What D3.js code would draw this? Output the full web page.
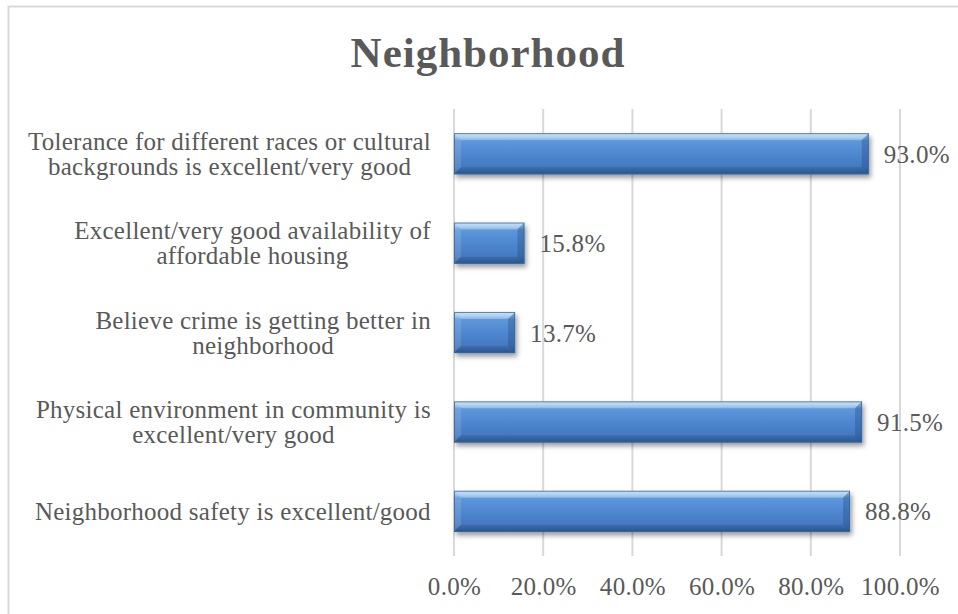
<!DOCTYPE html>
<html>
<head>
<meta charset="utf-8">
<script src="https://cdn.jsdelivr.net/npm/d3@7"></script>
<style>
  html, body { margin: 0; padding: 0; background: #fff; }
  svg { display: block; }
  text { font-family: "Liberation Serif", "Times New Roman", serif; fill: #595959; }
</style>
</head>
<body>
<svg id="chart" width="958" height="614"></svg>
<script>
// ---- data ----
const title = "Neighborhood";
const categories = [
  "Tolerance for different races or cultural\nbackgrounds is excellent/very good",
  "Excellent/very good availability of\naffordable housing",
  "Believe crime is getting better in\nneighborhood",
  "Physical environment in community is\nexcellent/very good",
  "Neighborhood safety is excellent/good"
];
const values = [93.0, 15.8, 13.7, 91.5, 88.8];
const xTicks = [0, 20, 40, 60, 80, 100];

// ---- layout ----
const svg = d3.select("#chart");
const W = 958, H = 614;
const plot = { left: 454, right: 900, top: 109, bottom: 556 };

const x = d3.scaleLinear().domain([0, 100]).range([plot.left, plot.right]);
const y = d3.scaleBand().domain(categories).range([plot.top, plot.bottom]).paddingInner(0.54).paddingOuter(0.27);

// defs
const defs = svg.append("defs");
const g1 = defs.append("linearGradient").attr("id", "barGrad").attr("x1", 0).attr("y1", 0).attr("x2", 0).attr("y2", 1);
[["0%", "#b5dcfb"], ["10%", "#8fc1ef"], ["18%", "#5d97dc"], ["50%", "#4f88d0"], ["82%", "#4479c0"], ["92%", "#3a6aa8"], ["100%", "#2d5588"]]
  .forEach(([o, c]) => g1.append("stop").attr("offset", o).attr("stop-color", c));
const f = defs.append("filter").attr("id", "shadow").attr("x", "-10%").attr("y", "-30%").attr("width", "130%").attr("height", "180%");
f.append("feDropShadow").attr("dx", 2).attr("dy", 3.5).attr("stdDeviation", 2.5).attr("flood-color", "#000").attr("flood-opacity", 0.4);

// chart border
svg.append("rect").attr("x", 8.5).attr("y", 6.5).attr("width", W + 20).attr("height", H + 20)
  .attr("fill", "none").attr("stroke", "#d9d9d9").attr("stroke-width", 2);

// title
svg.append("text").attr("x", 488).attr("y", 67).attr("text-anchor", "middle")
  .style("font-size", "43px").style("font-weight", "bold").style("letter-spacing", "1px").text(title);

// gridlines
svg.append("g").selectAll("line").data(xTicks).join("line")
  .attr("x1", d => x(d)).attr("x2", d => x(d))
  .attr("y1", plot.top).attr("y2", plot.bottom)
  .attr("stroke", "#d9d9d9").attr("stroke-width", 2);

// x axis tick labels
const xAxis = d3.axisBottom(x).tickValues(xTicks).tickSize(0).tickPadding(0).tickFormat(d => d.toFixed(1) + "%");
const gx = svg.append("g").attr("transform", `translate(0,${plot.bottom})`).call(xAxis);
gx.select(".domain").remove();
gx.selectAll("text").attr("y", 39).attr("dy", 0)
  .style("font-size", "25px").style("letter-spacing", "0.3px")
  .style("font-family", "'Liberation Serif', serif").attr("fill", "#595959");

// category labels
const lab = svg.append("g");
categories.forEach(c => {
  const lines = c.split("\n");
  const cy = y(c) + y.bandwidth() / 2;
  const t = lab.append("text").style("font-size", "25px").style("letter-spacing", "0.25px").attr("text-anchor", "middle");
  lines.forEach((ln, i) => {
    t.append("tspan").attr("x", 0).attr("y", cy + 8.5 + (i - (lines.length - 1) / 2) * 25).text(ln);
  });
  const w = t.node().getBBox().width;
  t.attr("transform", `translate(${431 - w / 2},0)`);
});

// bars
const bars = svg.append("g").selectAll("g.bar").data(values).join("g").attr("class", "bar");
bars.each(function (v, i) {
  const g = d3.select(this);
  const x0 = x(0), x1 = x(v), y0 = y(categories[i]), h = y.bandwidth(), y1 = y0 + h;
  const b = Math.min(7, (x1 - x0) / 3);
  g.append("rect").attr("x", x0).attr("y", y0).attr("width", x1 - x0).attr("height", h)
    .attr("fill", "url(#barGrad)").attr("filter", "url(#shadow)");
  // bevels
  g.append("polygon").attr("points", [[x0, y0], [x1, y0], [x1 - b, y0 + b], [x0 + b, y0 + b]].map(p => p.join(",")).join(" "))
    .attr("fill", "#ffffff").attr("opacity", 0.25);
  g.append("polygon").attr("points", [[x0, y0], [x0 + b, y0 + b], [x0 + b, y1 - b], [x0, y1]].map(p => p.join(",")).join(" "))
    .attr("fill", "#ffffff").attr("opacity", 0.12);
  g.append("polygon").attr("points", [[x1, y0], [x1, y1], [x1 - b, y1 - b], [x1 - b, y0 + b]].map(p => p.join(",")).join(" "))
    .attr("fill", "#1f3f6a").attr("opacity", 0.3);
  g.append("polygon").attr("points", [[x0, y1], [x0 + b, y1 - b], [x1 - b, y1 - b], [x1, y1]].map(p => p.join(",")).join(" "))
    .attr("fill", "#1f3f6a").attr("opacity", 0.2);
  g.append("rect").attr("x", x0 + 0.5).attr("y", y0 + 0.5).attr("width", x1 - x0 - 1).attr("height", h - 1)
    .attr("fill", "none").attr("stroke", "#3b679e").attr("stroke-width", 1).attr("opacity", 0.8);
});

// value labels
svg.append("g").selectAll("text").data(values).join("text")
  .attr("x", d => x(d) + 15)
  .attr("y", (d, i) => y(categories[i]) + y.bandwidth() / 2 + 9)
  .style("font-size", "25px").style("letter-spacing", "0.3px")
  .text(d => d.toFixed(1) + "%");
</script>
</body>
</html>
